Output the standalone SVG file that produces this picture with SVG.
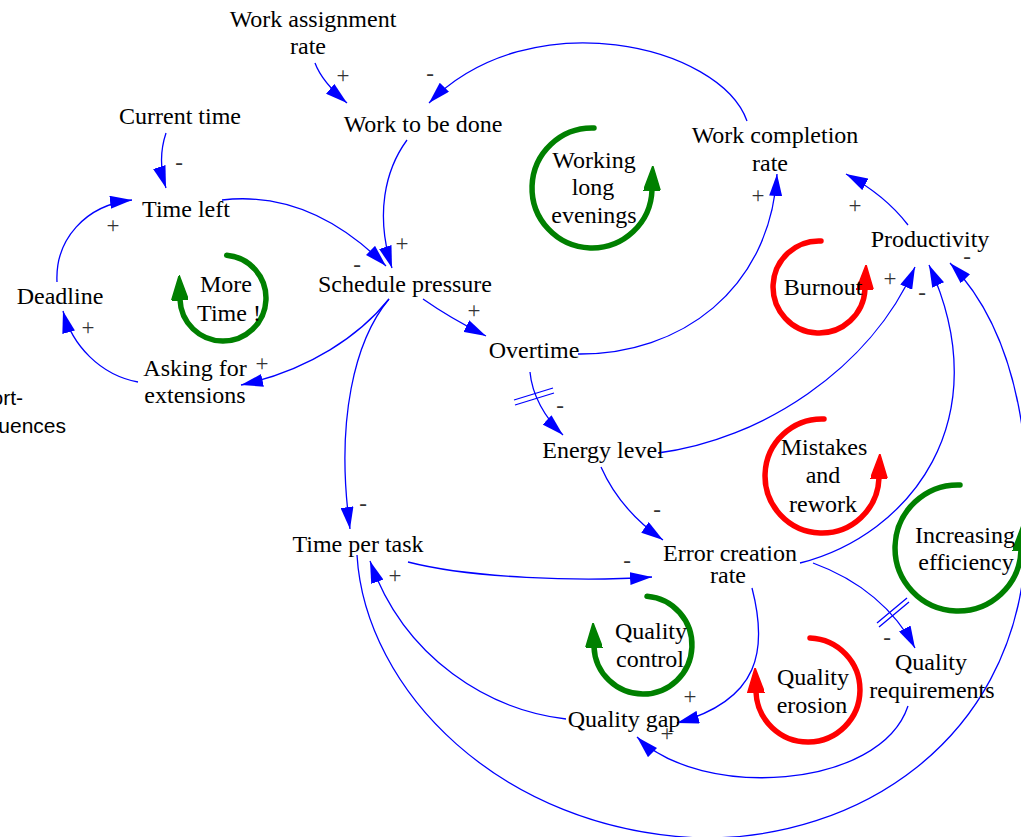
<svg xmlns="http://www.w3.org/2000/svg" width="1021" height="837" viewBox="0 0 1021 837">
<style>
  .n{font-family:"Liberation Serif","Times New Roman",serif;font-size:24px;fill:#000;text-anchor:middle}
  .s{font-family:"Liberation Serif","Times New Roman",serif;font-size:23px;fill:#333;text-anchor:middle}
  .sans{font-family:"Liberation Sans",Arial,sans-serif;font-size:21px;fill:#000;text-anchor:end}
  .c{fill:none;stroke:#00f;stroke-width:1.3;marker-end:url(#ah)}
  .d{fill:none;stroke:#00f;stroke-width:1.3}
  .lg{fill:none;stroke:#008000;stroke-width:5.5;stroke-linecap:round;marker-end:url(#agr)}
  .lr{fill:none;stroke:#f00;stroke-width:5.5;stroke-linecap:round;marker-end:url(#ared)}
</style>
<defs>
  <marker id="ah" viewBox="0 0 22 13" refX="22" refY="6.5" markerWidth="22" markerHeight="13" markerUnits="userSpaceOnUse" orient="auto">
    <path d="M0,0 L22,6.5 L0,13 z" fill="#00f"/>
  </marker>
  <marker id="agr" viewBox="0 0 25 17" refX="1" refY="8.5" markerWidth="25" markerHeight="17" markerUnits="userSpaceOnUse" orient="auto">
    <path d="M0,0 L25,8.5 L0,17 z" fill="#008000" stroke="#008000" stroke-width="1.5" stroke-linejoin="round"/>
  </marker>
  <marker id="ared" viewBox="0 0 25 17" refX="1" refY="8.5" markerWidth="25" markerHeight="17" markerUnits="userSpaceOnUse" orient="auto">
    <path d="M0,0 L25,8.5 L0,17 z" fill="#f00" stroke="#f00" stroke-width="1.5" stroke-linejoin="round"/>
  </marker>
</defs>

<!-- causal links -->
<g id="connectors">
  <path class="c" d="M315,63 Q322,82 347,103"/>
  <path class="c" d="M747,121 C720,45 530,0 429,103"/>
  <path class="c" d="M166,133 Q157,160 166,188"/>
  <path class="c" d="M222,200 C290,192 345,225 386,266"/>
  <path class="c" d="M407,140 C385,170 375,215 392,268"/>
  <path class="c" d="M57,282 C55,240 85,205 132,200"/>
  <path class="c" d="M138,382 C100,375 72,345 63,311"/>
  <path class="c" d="M389,299 C360,335 310,370 241,385"/>
  <path class="c" d="M389,299 C355,340 335,420 350,529"/>
  <path class="c" d="M423,299 Q450,318 486,336"/>
  <path class="c" d="M578,354 C680,355 770,290 777,174"/>
  <path class="c" d="M908,225 Q885,195 846,174"/>
  <path class="c" d="M530,372 C532,395 545,418 563,435"/>
  <path class="c" d="M658,453 C760,440 870,370 915,267"/>
  <path class="c" d="M800,563 C910,535 1000,420 929,265"/>
  <path class="c" d="M357,555 C365,690 500,830 700,838 C860,840 1010,740 1025,560 C1033,470 1025,340 950,263"/>
  <path class="c" d="M408,562 C470,578 580,582 652,577"/>
  <path class="c" d="M566,719 C490,710 405,660 370,561"/>
  <path class="c" d="M601,467 Q620,510 663,540"/>
  <path class="c" d="M752,588 C768,650 760,700 677,723"/>
  <path class="c" d="M908,706 C880,790 700,800 637,737"/>
  <path class="c" d="M813,563 C860,580 895,610 915,648"/>
  <!-- delay marks -->
  <path class="d" d="M514,400 L553,388 M515,405 L554,393"/>
  <path class="d" d="M877,623 L907,598 M879,627 L909,602"/>
  <!-- polarities -->
  <text class="s" x="343" y="83">+</text>
  <text class="s" x="430" y="81">-</text>
  <text class="s" x="179" y="170">-</text>
  <text class="s" x="357" y="272">-</text>
  <text class="s" x="402" y="251">+</text>
  <text class="s" x="113" y="233">+</text>
  <text class="s" x="88" y="335">+</text>
  <text class="s" x="262" y="371">+</text>
  <text class="s" x="363" y="511">-</text>
  <text class="s" x="474" y="318">+</text>
  <text class="s" x="758" y="203">+</text>
  <text class="s" x="855" y="213">+</text>
  <text class="s" x="560" y="413">-</text>
  <text class="s" x="890" y="286">+</text>
  <text class="s" x="922" y="300">-</text>
  <text class="s" x="967" y="264">-</text>
  <text class="s" x="627" y="568">-</text>
  <text class="s" x="395" y="583">+</text>
  <text class="s" x="657" y="517">-</text>
  <text class="s" x="690" y="704">+</text>
  <text class="s" x="667" y="741">+</text>
  <text class="s" x="887" y="645">-</text>
</g>

<!-- variables -->
<g id="work-assignment-rate"><text class="n"><tspan x="313" y="27">Work assignment</tspan><tspan x="308" y="54">rate</tspan></text></g>
<g id="current-time"><text class="n" x="180" y="124">Current time</text></g>
<g id="work-to-be-done"><text class="n" x="423" y="132">Work to be done</text></g>
<g id="work-completion-rate"><text class="n"><tspan x="775" y="143">Work completion</tspan><tspan x="770" y="171">rate</tspan></text></g>
<g id="time-left"><text class="n" x="186" y="217">Time left</text></g>
<g id="productivity"><text class="n" x="930" y="247">Productivity</text></g>
<g id="schedule-pressure"><text class="n" x="405" y="292">Schedule pressure</text></g>
<g id="deadline"><text class="n" x="60" y="304">Deadline</text></g>
<g id="asking-for-extensions"><text class="n"><tspan x="195" y="376">Asking for</tspan><tspan x="195" y="403">extensions</tspan></text></g>
<g id="overtime"><text class="n" x="534" y="358">Overtime</text></g>
<g id="energy-level"><text class="n" x="603" y="458">Energy level</text></g>
<g id="time-per-task"><text class="n" x="358" y="552">Time per task</text></g>
<g id="error-creation-rate"><text class="n"><tspan x="730" y="561">Error creation</tspan><tspan x="728" y="583">rate</tspan></text></g>
<g id="quality-requirements"><text class="n"><tspan x="931" y="670">Quality</tspan><tspan x="932" y="698">requirements</tspan></text></g>
<g id="quality-gap"><text class="n" x="624" y="727">Quality gap</text></g>
<g id="side-note"><text class="sans"><tspan x="23" y="405">ort-</tspan><tspan x="66" y="433">uences</tspan></text></g>

<!-- loops -->
<g id="loop-more-time">
  <path class="lg" d="M226.7,255.2 A43,43 0 1 1 180,299.5"/>
  <text class="n"><tspan x="226" y="292">More</tspan><tspan x="229" y="321">Time !</tspan></text>
</g>
<g id="loop-working-long-evenings">
  <path class="lg" d="M594,128 A60,60 0 1 0 652,190"/>
  <text class="n"><tspan x="594" y="168">Working</tspan><tspan x="593" y="195">long</tspan><tspan x="594" y="223">evenings</tspan></text>
</g>
<g id="loop-burnout">
  <path class="lr" d="M821,241 A46,46 0 1 0 865,289"/>
  <text class="n" x="823" y="295">Burnout</text>
</g>
<g id="loop-mistakes-and-rework">
  <path class="lr" d="M824,419 A57,57 0 1 0 879,478"/>
  <text class="n"><tspan x="824" y="455">Mistakes</tspan><tspan x="823" y="483">and</tspan><tspan x="823" y="512">rework</tspan></text>
</g>
<g id="loop-increasing-efficiency">
  <path class="lg" d="M960,485 A63,63 0 1 0 1021,550"/>
  <text class="n"><tspan x="965" y="543">Increasing</tspan><tspan x="966" y="570">efficiency</tspan></text>
</g>
<g id="loop-quality-control">
  <path class="lg" d="M647,596.2 A49,49 0 1 1 594,647"/>
  <text class="n"><tspan x="651" y="639">Quality</tspan><tspan x="650" y="667">control</tspan></text>
</g>
<g id="loop-quality-erosion">
  <path class="lr" d="M810,638 A52,52 0 1 1 756,692"/>
  <text class="n"><tspan x="813" y="685">Quality</tspan><tspan x="812" y="713">erosion</tspan></text>
</g>
</svg>
